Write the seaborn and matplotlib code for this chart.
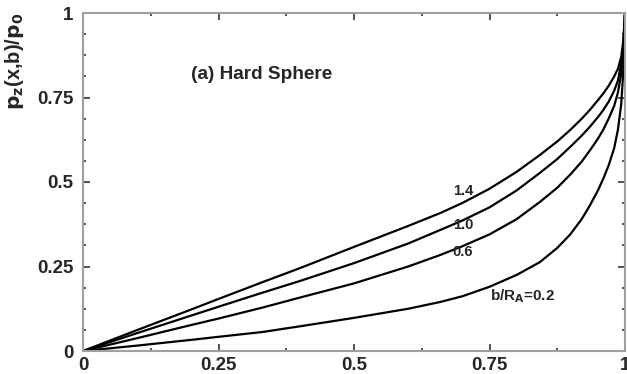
import numpy as np
import pandas as pd
import matplotlib
matplotlib.use("Agg")
import matplotlib.pyplot as plt
import seaborn as sns
from matplotlib.ticker import MultipleLocator

# ---- data ----
x_vals = [0, 0.1, 0.2, 0.25, 0.33, 0.4, 0.5, 0.6, 0.659, 0.7, 0.75, 0.8, 0.843,
          0.875, 0.899, 0.92, 0.935, 0.95, 0.96, 0.97, 0.98, 0.987, 0.993, 0.997, 1.0]
y_14 = [0, 0.062, 0.123, 0.154, 0.203, 0.245, 0.308, 0.370, 0.408, 0.438, 0.480, 0.530, 0.580,
        0.620, 0.654, 0.687, 0.713, 0.742, 0.762, 0.785, 0.812, 0.835, 0.870, 0.920, 1.0]
y_10 = [0, 0.053, 0.105, 0.131, 0.172, 0.207, 0.260, 0.318, 0.358, 0.386, 0.425, 0.475, 0.527,
        0.568, 0.604, 0.637, 0.663, 0.692, 0.713, 0.738, 0.770, 0.800, 0.850, 0.910, 1.0]
y_06 = [0, 0.038, 0.077, 0.096, 0.128, 0.158, 0.200, 0.250, 0.284, 0.310, 0.345, 0.390, 0.441,
        0.483, 0.522, 0.560, 0.593, 0.628, 0.655, 0.688, 0.725, 0.765, 0.820, 0.890, 1.0]
y_02 = [0, 0.016, 0.033, 0.042, 0.056, 0.073, 0.098, 0.125, 0.145, 0.162, 0.190, 0.225, 0.263,
        0.305, 0.345, 0.390, 0.430, 0.475, 0.510, 0.550, 0.600, 0.655, 0.730, 0.830, 1.0]
b_labels = ["1.4", "1.0", "0.6", "0.2"]
xticks = [0, 0.25, 0.5, 0.75, 1]
xtick_labels = ["0", "0.25", "0.5", "0.75", "1"]
yticks = [0, 0.25, 0.5, 0.75, 1]
ytick_labels = ["0", "0.25", "0.5", "0.75", "1"]

series = {"1.4": y_14, "1.0": y_10, "0.6": y_06, "0.2": y_02}
df = pd.concat(
    [pd.DataFrame({"x": x_vals, "p": v, "b": k}) for k, v in series.items()],
    ignore_index=True,
)

sns.set_style("ticks")
plt.rcParams["font.family"] = ["Liberation Sans", "DejaVu Sans"]
plt.rcParams["font.weight"] = "bold"

fig = plt.figure(figsize=(6.27, 3.74), dpi=100)
ax = fig.add_axes([83 / 627, 23 / 374, 542 / 627, 338 / 374])

sns.lineplot(data=df, x="x", y="p", hue="b", hue_order=b_labels,
             palette=["black"] * 4, linewidth=1.6, legend=False, ax=ax,
             sort=False)

ax.set_xlim(0, 1)
ax.set_ylim(0, 1)
ax.set_xticks(xticks)
ax.set_xticklabels(xtick_labels, fontsize=13.5, fontweight="bold")
ax.set_yticks(yticks)
ax.set_yticklabels(ytick_labels, fontsize=13.5, fontweight="bold")
ax.xaxis.set_minor_locator(MultipleLocator(0.125))
ax.yaxis.set_minor_locator(MultipleLocator(0.0625))
ax.tick_params(which="both", direction="in", top=True, right=True,
               color="#333333", width=1.2)
ax.tick_params(axis="y", which="major", length=5, pad=7)
ax.tick_params(axis="x", which="major", length=5, pad=4)
ax.tick_params(which="minor", length=2.5)
for s in ax.spines.values():
    s.set_color("#a0a0a0")
    s.set_linewidth(1.5)

ax.set_xlabel("")
ax.set_ylabel(r"$\mathbf{p_z}$(x,b)/$\mathbf{p_0}$", fontsize=14.5,
              fontweight="bold", loc="top")
ax.yaxis.set_label_coords(-0.105, 1.0)

ax.text(0.20, 0.817, "(a) Hard Sphere", fontsize=13.7, fontweight="bold",
        ha="left", va="center")
ax.text(0.701, 0.473, "1.4", fontsize=10.5, fontweight="bold", ha="center", va="center")
ax.text(0.701, 0.373, "1.0", fontsize=10.5, fontweight="bold", ha="center", va="center")
ax.text(0.701, 0.293, "0.6", fontsize=10.5, fontweight="bold", ha="center", va="center")
ax.text(0.751, 0.163, r"b/R$\mathbf{_A}$=0.2", fontsize=11, fontweight="bold",
        ha="left", va="center")

fig.savefig("out.png", dpi=100)
